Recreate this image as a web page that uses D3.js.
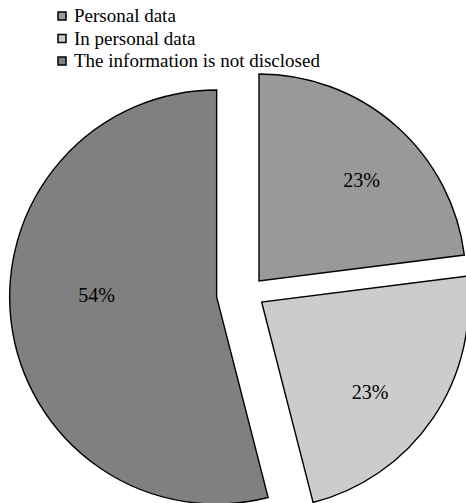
<!DOCTYPE html>
<html>
<head>
<meta charset="utf-8">
<script src="https://cdn.jsdelivr.net/npm/d3@7"></script>
</head>
<body style="margin:0; background:#fff">
<svg id="chart" width="466" height="503"></svg>
<script>
// categories and values
const categories = ["Personal data", "In personal data", "The information is not disclosed"];
const values = [23, 23, 54];
const labels = ["23%", "23%", "54%"];
const colors = ["#999999", "#cccccc", "#808080"];

// how far each slice is pulled out, and where its label sits
const explode = [16, 16, 32];
const labelRadius = [144, 141, 120];
const labelTurn = [4, 5.5, 8]; // degres

const serif = '"Liberation Serif"';

const svg = d3.select("#chart");
const cx = 248.4, cy = 293, radius = 207;

const pie = d3.pie().sort(null).value((d) => d)(values);
const arc = d3.arc().innerRadius(0).outerRadius(radius);

const g = svg.append("g").attr("transform", `translate(${cx},${cy})`);

const slices = g
  .selectAll(".slice")
  .data(pie)
  .enter()
  .append("g")
  .attr("class", "slice")
  .attr("transform", (d, i) => {
    const mid = (d.startAngle + d.endAngle) / 2;
    return `translate(${explode[i] * Math.sin(mid)},${-explode[i] * Math.cos(mid)})`;
  });

slices
  .append("path")
  .attr("d", arc)
  .attr("fill", (d, i) => colors[i])
  .attr("stroke", "#000")
  .attr("stroke-width", 1.4)
  .attr("stroke-linejoin", "miter");

function labelAngle(d, i) {
  return (d.startAngle + d.endAngle) / 2 + (labelTurn[i] * Math.PI) / 180;
}

slices
  .append("text")
  .attr("x", (d, i) => labelRadius[i] * Math.sin(labelAngle(d, i)))
  .attr("y", (d, i) => -labelRadius[i] * Math.cos(labelAngle(d, i)))
  .attr("dy", "0.35em")
  .attr("text-anchor", "middle")
  .style("font-family", serif)
  .style("font-size", "20px")
  .text((d, i) => labels[i]);

// legende
const legend = svg.append("g").attr("transform", "translate(58,0)");
const rows = legend
  .selectAll(".row")
  .data(categories)
  .enter()
  .append("g")
  .attr("class", "row")
  .attr("transform", (d, i) => `translate(0,${16 + i * 22.5})`);

rows
  .append("rect")
  .attr("x", 0)
  .attr("y", -4)
  .attr("width", 8)
  .attr("height", 8)
  .attr("fill", (d, i) => colors[i])
  .attr("stroke", "#000")
  .attr("stroke-width", 1.5);

rows
  .append("text")
  .attr("x", 16)
  .attr("y", 6)
  .style("font-family", serif)
  .style("font-size", "19px")
  .text((d) => d);
</script>
</body>
</html>
